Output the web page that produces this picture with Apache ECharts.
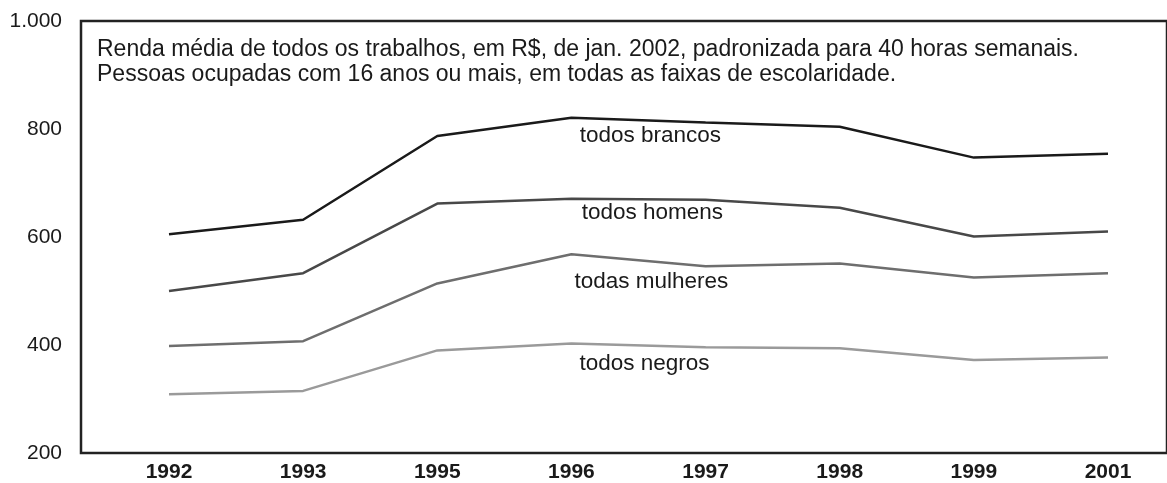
<!DOCTYPE html>
<html>
<head>
    <meta charset="utf-8">
    <title>Renda média</title>
    <script src="https://cdn.jsdelivr.net/npm/echarts@6/dist/echarts.min.js"></script>
    <style>
        body { margin: 0; background: #fff; }
    </style>
</head>
<body>
    <div id="main" style="width:1167px;height:483px;"></div>
    <script type="text/javascript">
        // dados
        var anos = ['1992', '1993', '1995', '1996', '1997', '1998', '1999', '2001'];
        var yTicks = [200, 400, 600, 800, 1000];
        var brancos  = [605, 632, 787, 821, 812, 804, 747, 754];
        var homens   = [500, 533, 662, 671, 669, 654, 601, 610];
        var mulheres = [398, 407, 514, 568, 546, 551, 525, 533];
        var negros   = [309, 315, 390, 403, 396, 394, 372, 377];

        var nomes  = ['todos brancos', 'todos homens', 'todas mulheres', 'todos negros'];
        var cores  = ['#1a1a1a', '#484848', '#6e6e6e', '#9a9a9a'];
        var offs   = [[79, 18], [81, 14], [80, 28], [73, 20]];
        var dados  = [brancos, homens, mulheres, negros];

        var myChart = echarts.init(document.getElementById('main'));

        function serie(i) {
            return {
                name: nomes[i],
                type: 'line',
                xAxisIndex: 1,
                yAxisIndex: 1,
                symbol: 'circle',
                symbolSize: 0,
                showSymbol: true,
                lineStyle: { color: cores[i], width: 2.5 },
                itemStyle: { color: cores[i] },
                emphasis: { disabled: true },
                data: dados[i].map(function (v, k) {
                    if (k !== 3) return v;
                    return {
                        value: v,
                        label: {
                            show: true,
                            position: 'inside',
                            offset: offs[i],
                            formatter: nomes[i],
                            color: '#1a1a1a',
                            fontSize: 22.5,
                            fontFamily: 'Liberation Sans'
                        }
                    };
                })
            };
        }

        var option = {
            animation: false,
            title: {
                text: 'Renda média de todos os trabalhos, em R$, de jan. 2002, padronizada para 40 horas semanais.\nPessoas ocupadas com 16 anos ou mais, em todas as faixas de escolaridade.',
                left: 92,
                top: 32,
                textStyle: {
                    fontFamily: 'Liberation Sans',
                    fontSize: 23,
                    fontWeight: 'normal',
                    color: '#1a1a1a',
                    lineHeight: 25
                }
            },
            grid: [
                // moldura
                { left: 81, right: -2, top: 21, bottom: 30, show: true,
                  borderColor: '#222', borderWidth: 2.5, backgroundColor: 'transparent' },
                // área dos dados
                { left: 169, right: 59, top: 21, bottom: 30 }
            ],
            xAxis: [
                { gridIndex: 0, type: 'value', show: false },
                {
                    gridIndex: 1,
                    type: 'category',
                    data: anos,
                    boundaryGap: false,
                    axisLine: { show: false },
                    axisTick: { show: false },
                    splitLine: { show: false },
                    axisLabel: {
                        margin: 9,
                        fontFamily: 'Liberation Sans',
                        fontSize: 21,
                        fontWeight: 'bold',
                        color: '#1a1a1a'
                    }
                }
            ],
            yAxis: [
                { gridIndex: 0, type: 'value', show: false },
                {
                    gridIndex: 1,
                    type: 'value',
                    min: yTicks[0],
                    max: yTicks[yTicks.length - 1],
                    interval: 200,
                    axisLine: { show: false },
                    axisTick: { show: false },
                    splitLine: { show: false },
                    axisLabel: {
                        margin: 107,
                        fontFamily: 'Liberation Sans',
                        fontSize: 21,
                        color: '#1a1a1a',
                        formatter: function (v) {
                            return v >= 1000 ? '1.000' : String(v);
                        }
                    }
                }
            ],
            series: [serie(0), serie(1), serie(2), serie(3)]
        };

        myChart.setOption(option);
    </script>
</body>
</html>
